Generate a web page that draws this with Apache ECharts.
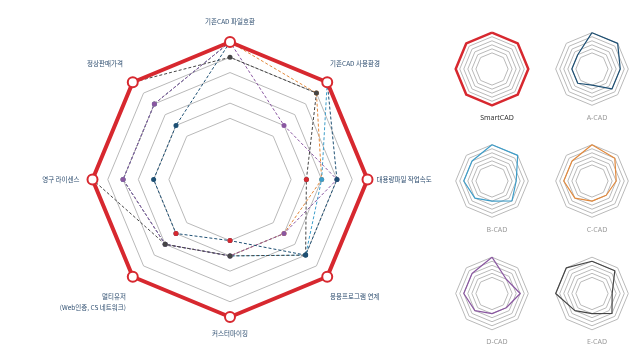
<!DOCTYPE html>
<html><head><meta charset="utf-8">
<script src="https://cdn.jsdelivr.net/npm/echarts@6/dist/echarts.min.js"></script>
<style>html,body{margin:0;padding:0;background:#fff}#c{width:642px;height:355px}</style>
</head><body><div id="c"></div>
<script>
// axis names, clockwise from the top
const axisNames = ['기존CAD 파일호환','기존CAD 사용환경','대용량파일 작업속도','응용프로그램 연계','커스터마이징','멀티유저\n(Web인증, CS 네트워크)','영구 라이센스','정상판매가격'];
const productNames = ['SmartCAD','A-CAD','B-CAD','C-CAD','D-CAD','E-CAD'];
// values, clockwise from the top (same order as axisNames)
const smartCAD = [9,9,9,9,9,9,9,9];
const aCAD = [9,9,7,7,4,5,5,5];
const bCAD = [9,9,6,7,5,6,7,7];
const cCAD = [9,8,6,5,5,6,7,7];
const dCAD = [9,5,7,5,5,6,7,7];
const eCAD = [8,8,5,7,5,6,9,9];
// red dots drawn without a line on the main chart
const redDots = [9,9,5,9,4,5,9,9];
const scaleMax = 9;
const ringLevels = 9;

const colors = ['#d7282f','#1d4f73','#3d9dc9','#e2893c','#8a57a1','#454545'];
const allValues = [smartCAD,aCAD,bCAD,cCAD,dCAD,eCAD];

// ECharts lays indicators out counter-clockwise: reorder
const ec = arr => [arr[0]].concat(arr.slice(1).reverse());
const grey = '#b9b9b9';
const ringColors = ['rgba(0,0,0,0)','rgba(0,0,0,0)','rgba(0,0,0,0)','rgba(0,0,0,0)',grey,grey,grey,grey,grey,grey];

const nameColor = '#2d4d6f';
const nameFont = {color: nameColor, fontSize: 6.5, fontFamily: 'Noto Sans CJK KR', lineHeight: 11};
const pads = [[0,0,22,0],[0,0,32,0],[0,0,0,5],[34,0,0,0],[15,0,0,0],null,[0,9,0,0],[0,7,32,0]];
const rich = {};
pads.forEach((p, i) => { if (p) rich['n' + i] = Object.assign({padding: p}, nameFont); });
rich.sp = {fontSize: 1, lineHeight: 45};
rich.bl = Object.assign({padding: [0,4,0,0]}, nameFont);

function fmtName(name){
  const i = axisNames.indexOf(name);
  if (i === 5) { const parts = name.split('\n'); return '{sp| }\n{bl|' + parts[0] + '}\n{bl|' + parts[1] + '}'; }
  return '{n' + i + '|' + name + '}';
}

function radarCfg(center, radius, showNames){
  return {
    center: center, radius: radius, startAngle: 90, shape: 'polygon', splitNumber: ringLevels,
    indicator: ec(axisNames).map(n => ({name: n, min: 0, max: scaleMax})),
    axisName: Object.assign({show: showNames, formatter: fmtName, rich: rich}, nameFont),
    nameGap: 4,
    axisLine: {show: false}, axisTick: {show: false}, axisLabel: {show: false},
    splitArea: {show: false},
    splitLine: {lineStyle: {color: ringColors, width: 1}}
  };
}

const smallCenters = [[492,69],[592,69],[492,181],[592,181],[492,293.5],[592,293.5]];
const radars = [radarCfg([230,179.5], 137.5, true)];
smallCenters.forEach(c => radars.push(radarCfg(c, 36.3, false)));

const mainData = [];
[3,2,4,5,1].forEach(i => {
  mainData.push({
    name: productNames[i], value: ec(allValues[i]), symbol: 'circle', symbolSize: 5,
    lineStyle: {color: colors[i], width: 1, type: [3,2]},
    itemStyle: {color: colors[i]}
  });
});
mainData.push({name: 'dots', value: ec(redDots), symbol: 'circle', symbolSize: 5,
  lineStyle: {opacity: 0, width: 0}, itemStyle: {color: colors[0]}});
mainData.push({name: productNames[0], value: ec(smartCAD), symbol: 'emptyCircle', symbolSize: 10,
  lineStyle: {color: colors[0], width: 4}, itemStyle: {color: colors[0], borderColor: colors[0], borderWidth: 2}});

const series = [{type: 'radar', radarIndex: 0, silent: true, data: mainData}];
allValues.forEach((v, i) => {
  series.push({type: 'radar', radarIndex: i + 1, silent: true, symbol: 'none',
    data: [{name: productNames[i], value: ec(v),
      lineStyle: {color: colors[i], width: i === 0 ? 2.5 : 1.2}}]});
});

const titles = smallCenters.map((c, i) => ({
  text: productNames[i], left: c[0], top: c[1] + 40, textAlign: 'center',
  textStyle: {fontSize: 7, fontWeight: 'normal', color: i === 0 ? '#333' : '#9a9a9a', fontFamily: 'Noto Sans'}
}));

const chart = echarts.init(document.getElementById('c'), null, {renderer: 'canvas'});
chart.setOption({animation: false, title: titles, radar: radars, series: series});
</script></body></html>
